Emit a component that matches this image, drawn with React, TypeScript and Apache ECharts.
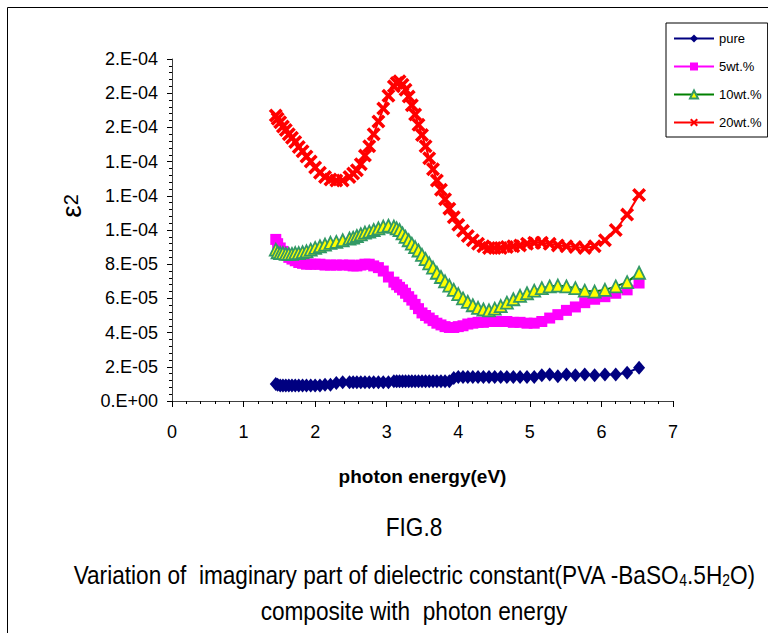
import React, { useEffect, useRef } from "react";
import * as echarts from "echarts";

// photon energy (eV) of each measured point
const energy = [
  1.45, 1.476, 1.512, 1.55, 1.59, 1.632, 1.676, 1.722, 1.771, 1.824,
  1.879, 1.938, 2.0, 2.067, 2.138, 2.214, 2.296, 2.385, 2.48, 2.531,
  2.583, 2.638, 2.696, 2.756, 2.818, 2.884, 2.952, 3.024, 3.1, 3.139,
  3.179, 3.221, 3.263, 3.307, 3.351, 3.397, 3.444, 3.493, 3.543, 3.594,
  3.647, 3.701, 3.758, 3.815, 3.875, 3.937, 4.0, 4.066, 4.133, 4.203,
  4.276, 4.351, 4.429, 4.509, 4.593, 4.679, 4.769, 4.863, 4.96, 5.061,
  5.167, 5.277, 5.391, 5.511, 5.636, 5.767, 5.905, 6.049, 6.2, 6.359,
  6.526,
];

// epsilon2 values, in units of 1e-5
const pure = [
  1.0, 0.95, 0.9, 0.9, 0.9, 0.9, 0.9, 0.9, 0.9, 0.9,
  0.9, 0.9, 0.9, 0.9, 0.95, 0.95, 1.05, 1.1, 1.1, 1.1,
  1.1, 1.1, 1.1, 1.1, 1.1, 1.1, 1.1, 1.1, 1.15, 1.15,
  1.15, 1.15, 1.15, 1.15, 1.15, 1.15, 1.15, 1.15, 1.15, 1.15,
  1.15, 1.15, 1.15, 1.15, 1.15, 1.35, 1.4, 1.4, 1.4, 1.4,
  1.4, 1.4, 1.4, 1.4, 1.4, 1.4, 1.4, 1.4, 1.4, 1.4,
  1.5, 1.55, 1.45, 1.55, 1.5, 1.55, 1.5, 1.55, 1.55, 1.65,
  1.95,
];
const wt5 = [
  9.45, 9.2, 8.95, 8.75, 8.55, 8.4, 8.3, 8.2, 8.1, 8.05,
  8.0, 8.0, 8.0, 8.0, 7.95, 7.95, 7.95, 7.95, 7.95, 7.9,
  7.9, 7.95, 8.0, 8.0, 7.9, 7.8, 7.6, 7.25, 6.95, 6.8,
  6.65, 6.5, 6.3, 6.1, 5.9, 5.65, 5.4, 5.15, 5.0, 4.85,
  4.7, 4.55, 4.45, 4.35, 4.3, 4.3, 4.35, 4.4, 4.5, 4.55,
  4.6, 4.6, 4.65, 4.65, 4.65, 4.65, 4.6, 4.6, 4.55, 4.55,
  4.65, 4.85, 5.05, 5.3, 5.5, 5.75, 5.95, 6.1, 6.3, 6.5,
  6.9,
];
const wt10 = [
  8.85, 8.7, 8.65, 8.65, 8.6, 8.6, 8.6, 8.65, 8.65, 8.7,
  8.75, 8.85, 8.95, 9.05, 9.15, 9.25, 9.3, 9.4, 9.5, 9.55,
  9.65, 9.75, 9.85, 9.9, 10.0, 10.1, 10.2, 10.25, 10.2, 10.1,
  10.0, 9.8, 9.6, 9.4, 9.2, 9.0, 8.8, 8.55, 8.3, 8.05,
  7.8, 7.5, 7.25, 7.0, 6.75, 6.5, 6.25, 6.0, 5.8, 5.6,
  5.45, 5.35, 5.3, 5.4, 5.55, 5.75, 5.95, 6.15, 6.3, 6.45,
  6.6, 6.7, 6.75, 6.7, 6.6, 6.45, 6.4, 6.5, 6.7, 6.95,
  7.5,
];
const wt20 = [
  16.7, 16.5, 16.3, 16.05, 15.85, 15.6, 15.4, 15.15, 14.85, 14.6,
  14.3, 14.0, 13.65, 13.35, 13.1, 12.95, 12.9, 12.9, 13.1, 13.3,
  13.5, 13.85, 14.35, 14.9, 15.6, 16.35, 17.1, 17.85, 18.4, 18.6,
  18.7, 18.5, 18.2, 17.8, 17.3, 16.75, 16.15, 15.55, 14.9, 14.2,
  13.55, 12.9, 12.35, 11.8, 11.25, 10.75, 10.3, 9.95, 9.65, 9.4,
  9.2, 9.05, 8.95, 8.95, 8.95, 9.0, 9.05, 9.1, 9.2, 9.25,
  9.25, 9.2, 9.1, 9.05, 9.0, 8.95, 9.05, 9.4, 10.0, 10.9,
  12.05,
];

const seriesNames = ["pure", "5wt.%", "10wt.%", "20wt.%"];
const UNIT = 1e-5;

const FONT = "'Liberation Sans', Arial, sans-serif";
const CROSS =
  "path://M0,1.8 L1.8,0 L5,3.2 L8.2,0 L10,1.8 L6.8,5 L10,8.2 L8.2,10 L5,6.8 L1.8,10 L0,8.2 L3.2,5 Z";

function fmtY(v: number): string {
  if (Math.abs(v) < 1e-12) return "0.E+00";
  const [m, e] = v.toExponential(0).split("e");
  const ei = parseInt(e, 10);
  return `${m}.E${ei < 0 ? "-" : "+"}${String(Math.abs(ei)).padStart(2, "0")}`;
}

export default function App() {
  const ref = useRef<HTMLDivElement>(null);
  useEffect(() => {
    if (!ref.current) return;
    const chart = echarts.init(ref.current, null, { renderer: "svg" });
    const mk = (arr: number[]) => energy.map((x, i) => [x, arr[i] * UNIT]);
    const base = (name: string, color: string) => ({
      name,
      type: "line",
      showSymbol: true,
      showAllSymbol: true,
      silent: true,
      lineStyle: { color, width: 2 },
      emphasis: { disabled: true },
    });
    chart.setOption({
      animation: false,
      backgroundColor: "#fff",
      grid: { left: 172, top: 59, width: 501, height: 342 },
      legend: {
        data: seriesNames,
        orient: "vertical",
        left: 666,
        top: 23,
        itemWidth: 40,
        itemHeight: 10,
        itemGap: 15,
        padding: [9, 6, 8, 7],
        borderColor: "#000",
        borderWidth: 1,
        backgroundColor: "#fff",
        selectedMode: false,
        textStyle: { fontSize: 13, fontFamily: FONT, color: "#000" },
      },
      xAxis: {
        type: "value",
        min: 0,
        max: 7,
        interval: 1,
        axisLine: { show: true, onZero: false, lineStyle: { color: "#404040", width: 1 } },
        axisTick: { show: true, length: 6, lineStyle: { color: "#000" } },
        minorTick: { show: true, splitNumber: 5, length: 3, lineStyle: { color: "#000" } },
        splitLine: { show: false },
        minorSplitLine: { show: false },
        axisLabel: { margin: 22, fontSize: 18, color: "#000", fontFamily: FONT },
        name: "photon energy(eV)",
        nameLocation: "middle",
        nameGap: 66,
        nameTextStyle: { fontWeight: "bold", fontSize: 19, color: "#000", fontFamily: FONT },
      },
      yAxis: {
        type: "value",
        min: 0,
        max: 2e-4,
        interval: 2e-5,
        axisLine: { show: true, lineStyle: { color: "#404040", width: 1 } },
        axisTick: { show: true, length: 5, lineStyle: { color: "#000" } },
        minorTick: { show: true, splitNumber: 5, length: 3, lineStyle: { color: "#000" } },
        splitLine: { show: false },
        minorSplitLine: { show: false },
        axisLabel: { formatter: fmtY, margin: 14, fontSize: 18, color: "#000", fontFamily: FONT },
      },
      series: [
        {
          ...base(seriesNames[0], "#000080"),
          data: mk(pure),
          symbol: "diamond",
          symbolSize: [12, 14],
          itemStyle: { color: "#000080" },
        },
        {
          ...base(seriesNames[1], "#FF00FF"),
          data: mk(wt5),
          symbol: "rect",
          symbolSize: 11,
          itemStyle: { color: "#FF00FF" },
        },
        {
          ...base(seriesNames[2], "#008000"),
          data: mk(wt10),
          symbol: "triangle",
          symbolSize: 12,
          itemStyle: { color: "#FFFF00", borderColor: "#339966", borderWidth: 1.8 },
        },
        {
          ...base(seriesNames[3], "#FF0000"),
          data: mk(wt20),
          symbol: CROSS,
          symbolSize: 14,
          itemStyle: { color: "#FF0000" },
        },
      ],
      graphic: [
        {
          type: "rect",
          silent: true,
          z: -10,
          shape: { x: 7.5, y: 7.5, width: 900, height: 900 },
          style: { fill: "none", stroke: "#000", lineWidth: 1 },
        },
        {
          type: "text",
          x: 71,
          y: 206,
          rotation: Math.PI / 2,
          style: {
            text: "{a|ε}{b|2}",
            align: "center",
            verticalAlign: "middle",
            fill: "#000",
            rich: {
              a: { fontSize: 28, fontFamily: FONT, fill: "#000", verticalAlign: "middle" },
              b: { fontSize: 20, fontFamily: FONT, fill: "#000", verticalAlign: "middle" },
            },
          },
        },
        {
          type: "text",
          x: 414,
          y: 527,
          scaleX: 0.87,
          style: {
            text: "FIG.8",
            font: `26px ${FONT}`,
            align: "center",
            verticalAlign: "middle",
            fill: "#000",
          },
        },
        {
          type: "text",
          x: 414,
          y: 575,
          scaleX: 0.87,
          style: {
            text: "Variation of  imaginary part of dielectric constant(PVA -BaSO{s|4}.5H{s|2}O)",
            font: `26px ${FONT}`,
            align: "center",
            verticalAlign: "middle",
            fill: "#000",
            rich: {
              s: { fontSize: 16, lineHeight: 10, verticalAlign: "bottom", fontFamily: FONT, fill: "#000" },
            },
          },
        },
        {
          type: "text",
          x: 414,
          y: 611,
          scaleX: 0.87,
          style: {
            text: "composite with  photon energy",
            font: `26px ${FONT}`,
            align: "center",
            verticalAlign: "middle",
            fill: "#000",
          },
        },
      ],
    });
    return () => chart.dispose();
  }, []);
  return (
    <div
      ref={ref}
      style={{ position: "fixed", left: 0, top: 0, width: 768, height: 633, background: "#fff" }}
    />
  );
}
